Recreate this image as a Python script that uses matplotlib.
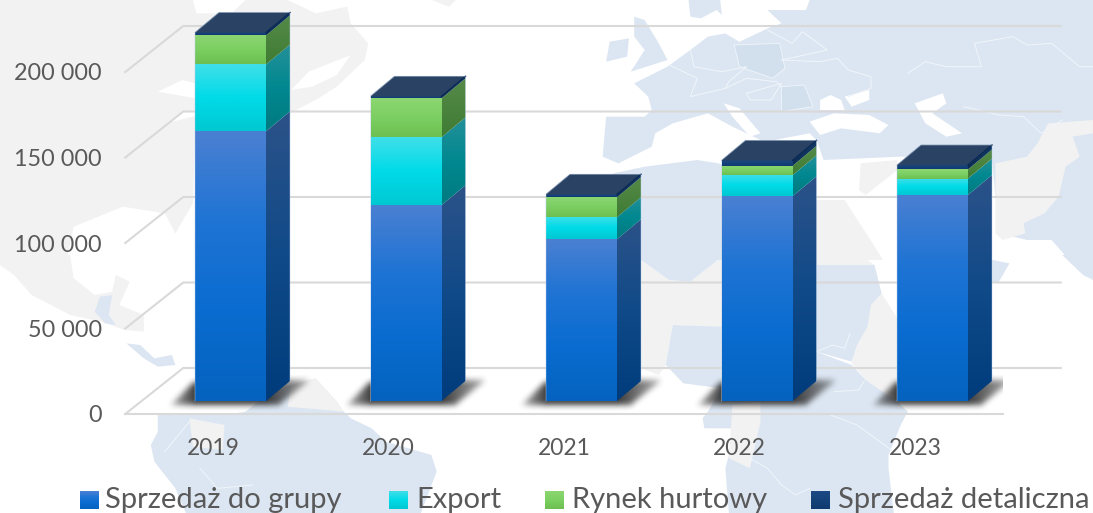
import numpy as np
import matplotlib
matplotlib.use("Agg")
import matplotlib.pyplot as plt
from matplotlib.colors import LinearSegmentedColormap
from matplotlib.patches import Polygon
from matplotlib.path import Path

years = ["2019", "2020", "2021", "2022", "2023"]
group_sales = [157700, 114500, 94600, 119700, 120500]
export = [39100, 39700, 12900, 12300, 9600]
wholesale = [17000, 22800, 11700, 5500, 5300]
retail = [1700, 1200, 1700, 3200, 2600]
series_names = ["Sprzedaż do grupy", "Export", "Rynek hurtowy", "Sprzedaż detaliczna"]
y_ticks = [0, 50000, 100000, 150000, 200000]
y_labels = ["0", "50 000", "100 000", "150 000", "200 000"]

W, H = 1093, 513
FONT = "Lato"
TEXT = "#595959"
GRID = "#d9d9d9"
MAP_BLUE = "#dce6f2"
MAP_DARK = "#d2e0ee"
MAP_GRAY = "#f2f2f2"

PX_X = 1 / 175.5
PX_Y = 50000 / 85.5
BAR_W = 71 * PX_X
DX = 24 * PX_X
DY = 20 * PX_Y
SHIFT_X = 17.5 * PX_X
SHIFT_Y = 13 * PX_Y

front_cols = [
    ["#4a80d2", "#1f74d4", "#0a6cd0", "#0563bf"],
    ["#40dfe8", "#00dbe8", "#00c8d2"],
    ["#8cd672", "#7ccf62", "#6cbf50"],
    ["#1c4a85", "#0f3a70"],
]
side_cols = [
    ["#2c5288", "#104a88", "#003c7c"],
    ["#259098", "#008890", "#007a80"],
    ["#558a48", "#3f7c34"],
    ["#123a66", "#0a2c52"],
]


def crop(x0, y0, pts):
    # outlines below were traced on zoomed crops
    return [(x0 + x / 2.851, y0 + y / 3) for x, y in pts]


land_gray = [
    crop(0, 0, [(0, 0), (550, 0), (560, 40), (660, 40), (700, 0), (820, 0), (900, 40), (990, 20),
                (1000, 70), (1050, 130), (1040, 180), (960, 260), (900, 300), (825, 340), (557, 390),
                (550, 610), (500, 700), (470, 640), (350, 620), (210, 680), (190, 780), (0, 780)]),
    crop(0, 255, [(0, 0), (200, 0), (210, 70), (270, 120), (320, 110), (330, 60), (370, 80), (340, 150),
                  (410, 180), (410, 230), (355, 225), (290, 200), (200, 180), (90, 120), (40, 60), (0, 30)]),
    crop(0, 0, [(1230, 0), (1300, 0), (1280, 20)]),
    crop(543, 0, [(905, 490), (1010, 480), (1010, 510), (920, 585), (900, 570)]),
    crop(543, 0, [(780, 600), (860, 600), (970, 780), (780, 780)]),
    crop(543, 255, [(280, 15), (360, 75), (420, 80), (510, 5), (510, 215), (370, 210), (350, 330), (330, 360),
                    (280, 340)]),
    crop(543, 255, [(780, 0), (905, 0), (945, 30), (780, 30)]),
    crop(543, 255, [(880, 325), (945, 30), (965, 115), (1010, 190), (1010, 440), (920, 375)]),
]
land_blue = [
    crop(543, 0, [(415, 0), (505, 0), (510, 45), (495, 30), (450, 55), (420, 50)]),
    crop(543, 0, [(470, 110), (520, 100), (560, 125), (640, 85), (680, 70), (640, 30), (750, 30), (760, 0),
                  (1568, 0), (1568, 780), (1500, 780), (1450, 720), (1380, 720), (1300, 700), (1280, 480),
                  (1020, 470), (800, 480), (780, 420), (760, 400), (660, 420), (620, 420), (540, 380),
                  (470, 340), (370, 370), (320, 400), (310, 440), (215, 490), (170, 470), (180, 350),
                  (290, 350), (310, 330), (300, 290), (260, 250), (355, 200), (420, 150)]),
    crop(543, 0, [(260, 50), (290, 60), (330, 130), (355, 180), (250, 215), (290, 150), (260, 110)]),
    crop(543, 0, [(190, 125), (245, 115), (240, 170), (180, 185)]),
    crop(543, 0, [(200, 520), (290, 500), (440, 480), (500, 490), (780, 600), (780, 780), (200, 780)]),
    crop(543, 255, [(780, 30), (945, 30), (965, 115), (935, 150), (925, 215), (895, 270), (880, 320), (780, 290)]),
    crop(543, 255, [(280, 0), (510, 0), (510, 5), (420, 80), (360, 75), (280, 15)]),
    crop(543, 255, [(370, 210), (510, 215), (510, 400), (400, 385), (350, 330)]),
    crop(543, 255, [(455, 490), (470, 470), (510, 400), (780, 290), (880, 330), (920, 375), (1010, 440),
                    (1040, 470), (1020, 510), (985, 600), (985, 640), (1000, 774), (530, 774), (520, 640),
                    (550, 520), (460, 520)]),
    crop(543, 255, [(1210, 0), (1330, 25), (1300, 80), (1210, 90)]),
    crop(543, 255, [(1480, 0), (1568, 0), (1568, 75), (1540, 60), (1510, 30)]),
    crop(0, 255, [(450, 480), (640, 480), (700, 470), (760, 420), (830, 390), (900, 370), (960, 440), (980, 470),
                  (1000, 490), (1060, 520), (1100, 560), (1230, 600), (1245, 650), (1200, 774), (530, 774),
                  (500, 700), (440, 620), (430, 570), (450, 530)]),
    crop(0, 255, [(285, 125), (320, 120), (310, 180), (330, 210), (300, 205), (270, 170)]),
    crop(0, 255, [(360, 265), (400, 270), (440, 310), (490, 300), (500, 330), (450, 335), (410, 310)]),
]
land_gray_top = [
    crop(543, 0, [(1290, 490), (1380, 470), (1410, 430), (1440, 370), (1568, 360), (1568, 400), (1510, 410),
                  (1530, 470), (1490, 500), (1470, 590), (1430, 640), (1370, 670), (1375, 700), (1310, 720),
                  (1290, 700)]),
    crop(543, 255, [(530, 610), (540, 450), (620, 440), (620, 500), (590, 640)]),
    crop(0, 255, [(540, 490), (640, 510), (635, 585), (550, 575)]),
    crop(0, 255, [(830, 390), (900, 370), (960, 440), (980, 470), (820, 455)]),
]
seas = [
    crop(543, 0, [(760, 365), (830, 340), (930, 345), (985, 375), (960, 400), (850, 385), (790, 405)]),
    crop(543, 0, [(790, 300), (820, 285), (850, 300), (860, 330), (790, 330)]),
    crop(543, 0, [(860, 290), (930, 270), (930, 300), (880, 320)]),
    crop(543, 0, [(1060, 310), (1140, 280), (1150, 310), (1110, 340), (1195, 400), (1150, 410), (1090, 370)]),
    crop(543, 0, [(515, 310), (560, 325), (620, 400), (590, 410), (540, 350)]),
    crop(543, 0, [(780, 490), (905, 490), (900, 600), (780, 600)]),
    crop(543, 0, [(510, 45), (580, 40), (640, 85), (560, 125), (520, 100)]),
    # inlets along the North American coast
    crop(0, 0, [(450, 275), (520, 240), (557, 250), (557, 295)]),
    crop(0, 0, [(480, 368), (520, 335), (557, 330), (557, 348)]),
    crop(0, 0, [(830, 270), (880, 215), (1000, 165), (960, 225), (890, 260)]),
]
dark_land = [
    crop(543, 0, [(545, 135), (675, 130), (690, 205), (655, 235), (560, 200)]),
    crop(543, 0, [(680, 260), (745, 255), (770, 320), (680, 335)]),
]
borders = [
    crop(543, 0, [(1040, 220), (1090, 185), (1150, 200), (1250, 200), (1230, 130), (1340, 110), (1380, 135),
                  (1450, 130), (1530, 200), (1568, 200)]),
    crop(543, 0, [(680, 180), (790, 185), (840, 175), (870, 210), (935, 230), (935, 265), (870, 290)]),
    crop(543, 0, [(1200, 320), (1300, 345), (1370, 350), (1420, 400), (1480, 360)]),
    crop(543, 0, [(360, 195), (440, 235), (420, 290), (520, 265), (580, 235), (665, 245), (680, 260)]),
    crop(543, 0, [(640, 90), (710, 130), (740, 95), (810, 150), (680, 180)]),
    crop(543, 0, [(510, 215), (580, 200), (530, 245), (520, 265)]),
    crop(543, 0, [(420, 150), (430, 200), (510, 215)]),
    crop(543, 0, [(580, 280), (680, 250), (650, 300), (590, 300), (580, 280)]),
    crop(543, 255, [(780, 290), (825, 270), (860, 280), (875, 235)]),
    crop(543, 255, [(830, 410), (900, 405), (915, 380)]),
    crop(543, 255, [(820, 480), (895, 510), (1000, 590)]),
    crop(543, 255, [(590, 610), (640, 640), (680, 690), (720, 720), (760, 700)]),
    crop(0, 255, [(470, 590), (540, 500)]),
    crop(0, 255, [(570, 640), (620, 700), (720, 690)]),
]


def vgrad(ax, cols, extent, clip):
    cmap = LinearSegmentedColormap.from_list("g", cols)
    grad = np.linspace(0, 1, 128).reshape(-1, 1)
    im = ax.imshow(grad, cmap=cmap, extent=extent, origin="upper", aspect="auto",
                   interpolation="bilinear", zorder=4)
    im.set_clip_path(clip)


def make_shadow():
    # soft floor shadow, in pixels around the front-left foot of a bar
    w, h, pad = 190, 52, 43
    top = 38
    yy, xx = np.mgrid[0:h, 0:w]
    shape = Path([(-25, 3), (-2, -19), (115, -22), (84, 3), (-25, 3)])
    rel_x = xx.ravel() - pad
    pts = np.column_stack([rel_x, yy.ravel() - top])
    mask = shape.contains_points(pts).reshape(h, w).astype(float)
    kernel = np.ones(7) / 7
    for _ in range(2):
        mask = np.apply_along_axis(lambda r: np.convolve(r, kernel, mode="same"), 1, mask)
        mask = np.apply_along_axis(lambda c: np.convolve(c, kernel, mode="same"), 0, mask)
    # fades away from the foot of the bar
    fade = np.clip(1 - (xx - pad - 71) / 70, 0.15, 1) * np.clip(1 + (xx - pad) / 40, 0.2, 1)
    rgba = np.zeros((h, w, 4))
    rgba[..., :3] = 0.16
    rgba[..., 3] = mask * fade * 0.9
    return rgba, w, h, pad, top


plt.rcParams["font.family"] = [FONT, "DejaVu Sans"]
fig = plt.figure(figsize=(W / 100, H / 100), dpi=100)

# world map behind the chart, plus the legend, in pixel coordinates
bg = fig.add_axes([0, 0, 1, 1], zorder=0)
bg.set_xlim(0, W)
bg.set_ylim(H, 0)
bg.axis("off")
bg.set_autoscale_on(False)
for pts in land_gray:
    bg.add_patch(Polygon(pts, fc=MAP_GRAY, ec="none", zorder=1))
for pts in land_blue:
    bg.add_patch(Polygon(pts, fc=MAP_BLUE, ec="none", zorder=2))
for pts in land_gray_top:
    bg.add_patch(Polygon(pts, fc=MAP_GRAY, ec="none", zorder=3))
for pts in seas:
    bg.add_patch(Polygon(pts, fc="white", ec="none", zorder=3))
for pts in dark_land:
    bg.add_patch(Polygon(pts, fc=MAP_DARK, ec="#f0f5fa", lw=0.6, zorder=4))
for pts in borders:
    xs, ys = zip(*pts)
    bg.plot(xs, ys, color="#f0f5fa", lw=0.7, zorder=4)

ax = fig.add_axes([125.25 / W, (H - 414) / H, 877.5 / W, 414 / H], zorder=1)
ax.patch.set_alpha(0)
ax.set_xlim(-0.5, 4.5)
ax.set_ylim(0, 414 * PX_Y)
ax.set_autoscale_on(False)
for s in ax.spines.values():
    s.set_visible(False)

back_x = 58 * PX_X
back_y = 46 * PX_Y
for v in y_ticks:
    ax.plot([-0.5, -0.5 + back_x, 4.5 + back_x], [v, v + back_y, v + back_y],
            color=GRID, lw=1.5, clip_on=False, zorder=1, solid_joinstyle="miter")
ax.plot([-0.5, 4.5], [0, 0], color=GRID, lw=1.5, clip_on=False, zorder=1)

ax.set_xticks(range(len(years)), years)
ax.set_yticks(y_ticks, y_labels)
ax.tick_params(axis="both", length=0, labelcolor=TEXT)
ax.tick_params(axis="x", pad=17, labelsize=16.5)
ax.tick_params(axis="y", pad=17, labelsize=16.8)

shadow, sw, sh, spad, stop = make_shadow()
stacks = [group_sales, export, wholesale, retail]
for i in range(len(years)):
    left = i + SHIFT_X - BAR_W / 2
    right = left + BAR_W
    base = SHIFT_Y
    ax.imshow(shadow, origin="upper", aspect="auto", zorder=3, interpolation="bilinear",
              extent=(left - spad * PX_X, left + (sw - spad) * PX_X,
                      base - (sh - stop) * PX_Y, base + stop * PX_Y))
    for k, values in enumerate(stacks):
        top = base + values[i]
        front = Polygon([(left, base), (right, base), (right, top), (left, top)],
                        transform=ax.transData, fc="none", ec="none")
        ax.add_patch(front)
        vgrad(ax, front_cols[k], (left, right, base, top), front)
        side = Polygon([(right, base), (right + DX, base + DY), (right + DX, top + DY), (right, top)],
                       transform=ax.transData, fc="none", ec="none")
        ax.add_patch(side)
        vgrad(ax, side_cols[k], (right, right + DX, base, top + DY), side)
        base = top
    ax.add_patch(Polygon([(left, base), (right, base), (right + DX, base + DY), (left + DX, base + DY)],
                         fc="#2a4263", ec="#2a4263", lw=0.3, zorder=5))
    ax.plot([right, right + DX], [base, base + DY], color="#0a2a55", lw=1, zorder=6)
    outline = (0.72, 0.80, 0.90, 0.45)
    ax.plot([left, left, left + DX, right + DX, right + DX],
            [SHIFT_Y, base, base + DY, base + DY, SHIFT_Y + DY], color=outline, lw=0.7, zorder=6)

# legend
legend_swatch_x = [80, 389, 545, 811]
legend_text_x = [105, 416, 572, 838]
for k, name in enumerate(series_names):
    x0 = legend_swatch_x[k]
    swatch = Polygon([(x0, 491), (x0 + 19, 491), (x0 + 19, 509), (x0, 509)], fc="none", ec="none")
    bg.add_patch(swatch)
    cmap = LinearSegmentedColormap.from_list("s", front_cols[k])
    im = bg.imshow(np.linspace(0, 1, 32).reshape(-1, 1), cmap=cmap, aspect="auto",
                   extent=(x0, x0 + 19, 509, 491), zorder=6, origin="upper")
    im.set_clip_path(swatch)
    bg.text(legend_text_x[k], 508, name, color=TEXT, fontsize=21, ha="left", va="baseline", zorder=6)

fig.savefig("out.png", dpi=100)
